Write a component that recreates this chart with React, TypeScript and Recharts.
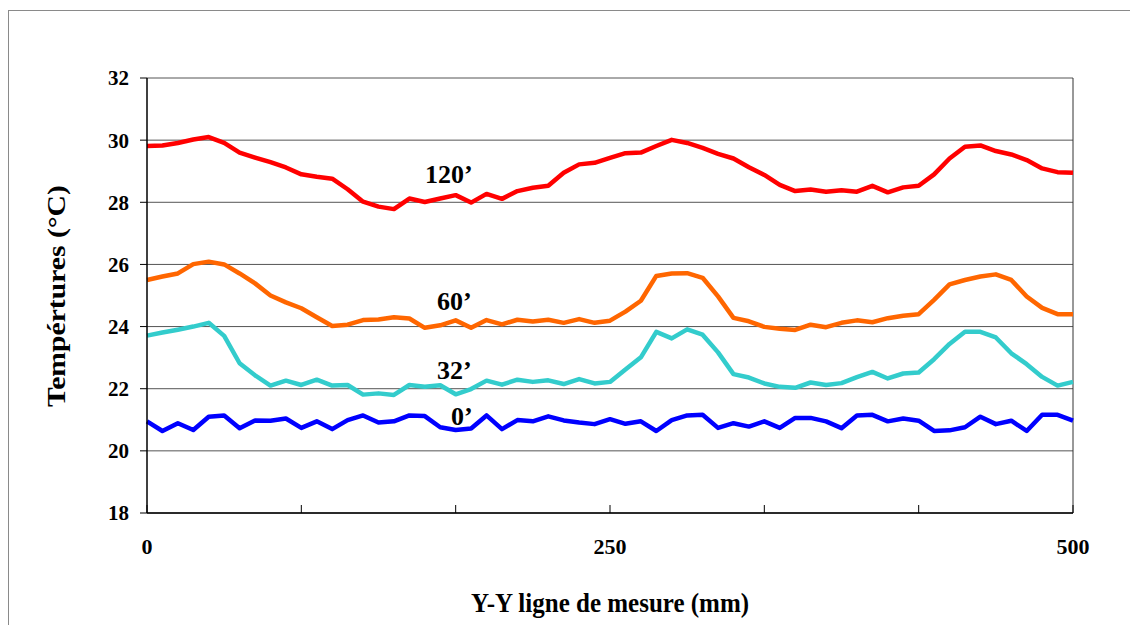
import {
  CartesianGrid,
  Line,
  LineChart,
  ReferenceDot,
  ReferenceLine,
  XAxis,
  YAxis,
} from "recharts";

// measuring positions along Y-Y (mm)
const positions = [
  0, 8.33, 16.67, 25, 33.33, 41.67, 50, 58.33, 66.67, 75, 83.33, 91.67, 100,
  108.33, 116.67, 125, 133.33, 141.67, 150, 158.33, 166.67, 175, 183.33, 191.67,
  200, 208.33, 216.67, 225, 233.33, 241.67, 250, 258.33, 266.67, 275, 283.33,
  291.67, 300, 308.33, 316.67, 325, 333.33, 341.67, 350, 358.33, 366.67, 375,
  383.33, 391.67, 400, 408.33, 416.67, 425, 433.33, 441.67, 450, 458.33, 466.67,
  475, 483.33, 491.67, 500,
];

const t120 = [
  29.81, 29.83, 29.91, 30.02, 30.1, 29.91, 29.6, 29.44, 29.29, 29.12, 28.9,
  28.82, 28.76, 28.42, 28.02, 27.86, 27.78, 28.12, 28.01, 28.12, 28.23, 27.99,
  28.27, 28.11, 28.36, 28.47, 28.53, 28.95, 29.22, 29.27, 29.43, 29.58, 29.6,
  29.81, 30.01, 29.91, 29.75, 29.56, 29.41, 29.13, 28.88, 28.56, 28.36, 28.41,
  28.34, 28.39, 28.34, 28.53, 28.32, 28.48, 28.53, 28.9, 29.41, 29.79, 29.83,
  29.65, 29.54, 29.36, 29.09, 28.97, 28.95,
];

const t60 = [
  25.5, 25.61, 25.71, 26.01, 26.09, 26.0, 25.71, 25.39, 25.0, 24.78, 24.59,
  24.3, 24.02, 24.06, 24.21, 24.23, 24.3, 24.26, 23.96, 24.04, 24.2, 23.96,
  24.21, 24.07, 24.22, 24.16, 24.22, 24.12, 24.24, 24.12, 24.19, 24.48, 24.83,
  25.63, 25.71, 25.72, 25.57, 24.97, 24.28, 24.17, 23.99, 23.93, 23.89, 24.06,
  23.98, 24.12, 24.2, 24.14, 24.27, 24.35, 24.4, 24.86, 25.36, 25.5, 25.61,
  25.68, 25.5, 24.97, 24.6, 24.4, 24.4,
];

const t32 = [
  23.71, 23.81, 23.9, 24.0, 24.12, 23.7, 22.82, 22.43, 22.1, 22.26, 22.12,
  22.29, 22.1, 22.12, 21.81, 21.85, 21.8, 22.12, 22.06, 22.11, 21.82, 21.99,
  22.26, 22.13, 22.29, 22.22, 22.27, 22.15, 22.31, 22.17, 22.22, 22.62, 23.01,
  23.83, 23.62, 23.91, 23.74, 23.17, 22.47, 22.36, 22.17, 22.06, 22.03, 22.2,
  22.12, 22.18, 22.37, 22.54, 22.33, 22.49, 22.52, 22.95, 23.44, 23.83, 23.83,
  23.65, 23.14, 22.79, 22.38, 22.1, 22.22,
];

const t0 = [
  20.95, 20.64, 20.89, 20.67, 21.1, 21.14, 20.73, 20.98, 20.97, 21.04, 20.74,
  20.95, 20.7, 20.99, 21.14, 20.91, 20.95, 21.14, 21.12, 20.76, 20.67, 20.72,
  21.14, 20.7, 20.99, 20.95, 21.11, 20.98, 20.91, 20.86, 21.02, 20.87, 20.95,
  20.64, 20.99, 21.14, 21.16, 20.74, 20.89, 20.78, 20.95, 20.74, 21.06, 21.06,
  20.95, 20.73, 21.14, 21.16, 20.95, 21.04, 20.97, 20.64, 20.66, 20.76, 21.1,
  20.86, 20.97, 20.64, 21.16, 21.16, 20.97,
];

const xTicks = [0, 83.33, 166.67, 250, 333.33, 416.67, 500];
const xTickLabels = ["0", "", "", "250", "", "", "500"];
const yTicks = [18, 20, 22, 24, 26, 28, 30, 32];

// in-plot curve labels: [text, x, y]
const curveLabels: [string, number, number][] = [
  ["120’", 163, 28.91],
  ["60’", 166, 24.84],
  ["32’", 166, 22.6],
  ["0’", 170, 21.12],
];

const series = [
  { key: "t120", color: "#FF0000" },
  { key: "t60", color: "#FF6600" },
  { key: "t32", color: "#33CCCC" },
  { key: "t0", color: "#0000FF" },
];

const FONT = '"Liberation Serif", "Times New Roman", serif';

const data = positions.map((p, i) => ({
  y: p,
  t120: t120[i],
  t60: t60[i],
  t32: t32[i],
  t0: t0[i],
}));

function XTick({ x, y, payload }: any) {
  const i = xTicks.indexOf(payload.value);
  const label = xTickLabels[i] ?? "";
  return (
    <g>
      <line x1={x} y1={y} x2={x} y2={y - 8} stroke="#000" strokeWidth={1} />
      {label && (
        <text
          x={x}
          y={y + 41}
          textAnchor="middle"
          fontFamily={FONT}
          fontWeight={700}
          fontSize={22}
          fill="#000"
        >
          {label}
        </text>
      )}
    </g>
  );
}

export default function App() {
  return (
    <div
      style={{
        position: "relative",
        width: 1130,
        height: 625,
        overflow: "hidden",
        background: "#fff",
      }}
    >
      <style>{`html,body{margin:0;overflow:hidden}`}</style>
      <div
        style={{
          position: "absolute",
          left: 8,
          top: 10,
          width: 1300,
          height: 800,
          border: "1px solid #8a8a8a",
        }}
      />
      <div style={{ position: "absolute", left: 0, top: 0 }}>
        <LineChart
          width={1130}
          height={625}
          data={data}
          margin={{ top: 78, right: 57, bottom: 52, left: 67 }}
        >
          <CartesianGrid
            vertical={false}
            stroke="#555"
            strokeWidth={1}
            horizontalValues={yTicks}
          />
          <XAxis
            dataKey="y"
            type="number"
            domain={[0, 500]}
            ticks={xTicks}
            interval={0}
            height={60}
            tickLine={false}
            tickSize={0}
            tickMargin={0}
            tick={<XTick />}
            axisLine={{ stroke: "#000", strokeWidth: 1.5 }}
          />
          <YAxis
            type="number"
            domain={[18, 32]}
            ticks={yTicks}
            interval={0}
            width={80}
            tickSize={7}
            tickMargin={11}
            tickLine={{ stroke: "#000" }}
            axisLine={{ stroke: "#000", strokeWidth: 1.5 }}
            tick={{
              fontFamily: FONT,
              fontWeight: 700,
              fontSize: 21,
              fill: "#000",
            }}
          />
          <ReferenceLine x={500} stroke="#333" strokeWidth={1} />
          {series.map((s) => (
            <Line
              key={s.key}
              dataKey={s.key}
              stroke={s.color}
              strokeWidth={4.5}
              strokeLinejoin="round"
              dot={false}
              isAnimationActive={false}
            />
          ))}
          {curveLabels.map(([text, x, y]) => (
            <ReferenceDot
              key={text}
              x={x}
              y={y}
              r={0}
              fill="none"
              stroke="none"
              label={{
                value: text,
                position: "center",
                fontFamily: FONT,
                fontWeight: 700,
                fontSize: 26,
                fill: "#000",
              }}
            />
          ))}
        </LineChart>
      </div>
      <div
        style={{
          position: "absolute",
          left: 57,
          top: 296,
          transform: "translate(-50%, -50%) rotate(-90deg) scaleX(1.14)",
          whiteSpace: "nowrap",
          fontFamily: FONT,
          fontWeight: 700,
          fontSize: 26,
          color: "#000",
        }}
      >
        Tempértures (°C)
      </div>
      <div
        style={{
          position: "absolute",
          left: 610,
          top: 603,
          transform: "translate(-50%, -50%) scaleY(1.1)",
          whiteSpace: "nowrap",
          fontFamily: FONT,
          fontWeight: 700,
          fontSize: 25,
          color: "#000",
        }}
      >
        Y-Y ligne de mesure (mm)
      </div>
    </div>
  );
}
